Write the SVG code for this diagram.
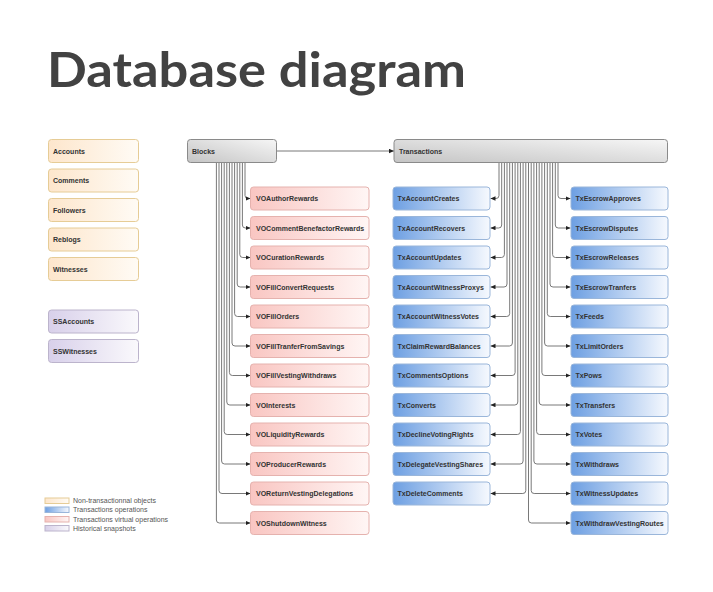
<svg xmlns="http://www.w3.org/2000/svg" width="713" height="592" viewBox="0 0 713 592">
<defs>
<linearGradient id="gNon" x1="0" y1="0" x2="1" y2="0"><stop offset="0" stop-color="#fde6cc"/><stop offset="1" stop-color="#fffbf5"/></linearGradient>
<linearGradient id="gVO" x1="0" y1="0" x2="1" y2="0"><stop offset="0" stop-color="#f9c6c2"/><stop offset="1" stop-color="#fff6f5"/></linearGradient>
<linearGradient id="gTx" x1="0" y1="0" x2="1" y2="0"><stop offset="0" stop-color="#6d9fe2"/><stop offset="1" stop-color="#f6f9fe"/></linearGradient>
<linearGradient id="gHist" x1="0" y1="0" x2="1" y2="0"><stop offset="0" stop-color="#d8d0ea"/><stop offset="1" stop-color="#faf9fc"/></linearGradient>
<linearGradient id="gMain" x1="1" y1="0" x2="0" y2="1"><stop offset="0" stop-color="#f6f6f6"/><stop offset="1" stop-color="#c4c4c4"/></linearGradient>
<marker id="arr" markerUnits="userSpaceOnUse" markerWidth="6" markerHeight="6" refX="5" refY="2.25" orient="auto"><path d="M0,0 L5,2.25 L0,4.5 z" fill="#222"/></marker>
</defs>
<style>
text{font-family:"Liberation Sans",Arial,sans-serif;}
.title{font-family:Lato,"Open Sans",sans-serif;font-weight:bold;font-size:48px;fill:#424242;}
.lbl{font-size:7px;font-weight:bold;fill:#333;}
.leg{font-size:7px;fill:#555;}
.non{fill:url(#gNon);stroke:#e6cc96;stroke-width:1;}
.vo{fill:url(#gVO);stroke:#e5b2ae;stroke-width:1;}
.tx{fill:url(#gTx);stroke:#9ab6da;stroke-width:1;}
.hist{fill:url(#gHist);stroke:#bcb4cc;stroke-width:1;}
.main{fill:url(#gMain);stroke:#8a8a8a;stroke-width:1;}
.c{fill:none;stroke:#6a6a6a;stroke-width:0.9;marker-end:url(#arr);}
</style>
<rect width="713" height="592" fill="#ffffff"/>
<text class="title" x="47" y="87" textLength="419" lengthAdjust="spacingAndGlyphs">Database diagram</text>

<g id="connectors">
<path class="c" d="M277,151 H394"/>
<path class="c" d="M245,163 V195.5 Q245,198.5 248,198.5 H250.5"/>
<path class="c" d="M242.4,163 V225 Q242.4,228 245.4,228 H250.5"/>
<path class="c" d="M239.8,163 V254.5 Q239.8,257.5 242.8,257.5 H250.5"/>
<path class="c" d="M237.2,163 V284 Q237.2,287 240.2,287 H250.5"/>
<path class="c" d="M234.6,163 V313.5 Q234.6,316.5 237.6,316.5 H250.5"/>
<path class="c" d="M232,163 V343 Q232,346 235,346 H250.5"/>
<path class="c" d="M229.4,163 V372.5 Q229.4,375.5 232.4,375.5 H250.5"/>
<path class="c" d="M226.8,163 V402 Q226.8,405 229.8,405 H250.5"/>
<path class="c" d="M224.2,163 V431.5 Q224.2,434.5 227.2,434.5 H250.5"/>
<path class="c" d="M221.6,163 V461 Q221.6,464 224.6,464 H250.5"/>
<path class="c" d="M219,163 V490.5 Q219,493.5 222,493.5 H250.5"/>
<path class="c" d="M216.4,163 V520 Q216.4,523 219.4,523 H250.5"/>

<path class="c" d="M499,163 V195.5 Q499,198.5 496,198.5 H490.5"/>
<path class="c" d="M501.7,163 V225 Q501.7,228 498.7,228 H490.5"/>
<path class="c" d="M504.4,163 V254.5 Q504.4,257.5 501.4,257.5 H490.5"/>
<path class="c" d="M507,163 V284 Q507,287 504,287 H490.5"/>
<path class="c" d="M509.7,163 V313.5 Q509.7,316.5 506.7,316.5 H490.5"/>
<path class="c" d="M512.4,163 V343 Q512.4,346 509.4,346 H490.5"/>
<path class="c" d="M515.1,163 V372.5 Q515.1,375.5 512.1,375.5 H490.5"/>
<path class="c" d="M517.8,163 V402 Q517.8,405 514.8,405 H490.5"/>
<path class="c" d="M520.4,163 V431.5 Q520.4,434.5 517.4,434.5 H490.5"/>
<path class="c" d="M523.1,163 V461 Q523.1,464 520.1,464 H490.5"/>
<path class="c" d="M525.8,163 V490.5 Q525.8,493.5 522.8,493.5 H490.5"/>

<path class="c" d="M558,163 V195.5 Q558,198.5 561,198.5 H570.5"/>
<path class="c" d="M555.3,163 V225 Q555.3,228 558.3,228 H570.5"/>
<path class="c" d="M552.6,163 V254.5 Q552.6,257.5 555.6,257.5 H570.5"/>
<path class="c" d="M550,163 V284 Q550,287 553,287 H570.5"/>
<path class="c" d="M547.3,163 V313.5 Q547.3,316.5 550.3,316.5 H570.5"/>
<path class="c" d="M544.6,163 V343 Q544.6,346 547.6,346 H570.5"/>
<path class="c" d="M541.9,163 V372.5 Q541.9,375.5 544.9,375.5 H570.5"/>
<path class="c" d="M539.2,163 V402 Q539.2,405 542.2,405 H570.5"/>
<path class="c" d="M536.6,163 V431.5 Q536.6,434.5 539.6,434.5 H570.5"/>
<path class="c" d="M533.9,163 V461 Q533.9,464 536.9,464 H570.5"/>
<path class="c" d="M531.2,163 V490.5 Q531.2,493.5 534.2,493.5 H570.5"/>
<path class="c" d="M528.5,163 V520 Q528.5,523 531.5,523 H570.5"/>
</g>

<g id="Accounts"><rect class="non" x="48.5" y="139.5" width="90" height="23" rx="3"/><text class="lbl" x="53" y="153.5">Accounts</text></g>
<g id="Comments"><rect class="non" x="48.5" y="169" width="90" height="23" rx="3"/><text class="lbl" x="53" y="183">Comments</text></g>
<g id="Followers"><rect class="non" x="48.5" y="198.5" width="90" height="23" rx="3"/><text class="lbl" x="53" y="212.5">Followers</text></g>
<g id="Reblogs"><rect class="non" x="48.5" y="228" width="90" height="23" rx="3"/><text class="lbl" x="53" y="242">Reblogs</text></g>
<g id="Witnesses"><rect class="non" x="48.5" y="257.5" width="90" height="23" rx="3"/><text class="lbl" x="53" y="271.5">Witnesses</text></g>
<g id="SSAccounts"><rect class="hist" x="48.5" y="310" width="90" height="23" rx="3"/><text class="lbl" x="53" y="324">SSAccounts</text></g>
<g id="SSWitnesses"><rect class="hist" x="48.5" y="339.5" width="90" height="23" rx="3"/><text class="lbl" x="53" y="353.5">SSWitnesses</text></g>

<g id="Blocks"><rect class="main" x="187.5" y="139.5" width="89" height="23" rx="3"/><text class="lbl" x="192" y="153.5">Blocks</text></g>
<g id="Transactions"><rect class="main" x="394" y="139.5" width="273.5" height="23" rx="3"/><text class="lbl" x="399" y="153.5">Transactions</text></g>

<g id="VOAuthorRewards"><rect class="vo" x="250.5" y="187" width="118.5" height="23" rx="3"/><text class="lbl" x="256" y="201">VOAuthorRewards</text></g>
<g id="VOCommentBenefactorRewards"><rect class="vo" x="250.5" y="216.5" width="118.5" height="23" rx="3"/><text class="lbl" x="256" y="230.5">VOCommentBenefactorRewards</text></g>
<g id="VOCurationRewards"><rect class="vo" x="250.5" y="246" width="118.5" height="23" rx="3"/><text class="lbl" x="256" y="260">VOCurationRewards</text></g>
<g id="VOFillConvertRequests"><rect class="vo" x="250.5" y="275.5" width="118.5" height="23" rx="3"/><text class="lbl" x="256" y="289.5">VOFillConvertRequests</text></g>
<g id="VOFillOrders"><rect class="vo" x="250.5" y="305" width="118.5" height="23" rx="3"/><text class="lbl" x="256" y="319">VOFillOrders</text></g>
<g id="VOFillTranferFromSavings"><rect class="vo" x="250.5" y="334.5" width="118.5" height="23" rx="3"/><text class="lbl" x="256" y="348.5">VOFillTranferFromSavings</text></g>
<g id="VOFillVestingWithdraws"><rect class="vo" x="250.5" y="364" width="118.5" height="23" rx="3"/><text class="lbl" x="256" y="378">VOFillVestingWithdraws</text></g>
<g id="VOInterests"><rect class="vo" x="250.5" y="393.5" width="118.5" height="23" rx="3"/><text class="lbl" x="256" y="407.5">VOInterests</text></g>
<g id="VOLiquidityRewards"><rect class="vo" x="250.5" y="423" width="118.5" height="23" rx="3"/><text class="lbl" x="256" y="437">VOLiquidityRewards</text></g>
<g id="VOProducerRewards"><rect class="vo" x="250.5" y="452.5" width="118.5" height="23" rx="3"/><text class="lbl" x="256" y="466.5">VOProducerRewards</text></g>
<g id="VOReturnVestingDelegations"><rect class="vo" x="250.5" y="482" width="118.5" height="23" rx="3"/><text class="lbl" x="256" y="496">VOReturnVestingDelegations</text></g>
<g id="VOShutdownWitness"><rect class="vo" x="250.5" y="511.5" width="118.5" height="23" rx="3"/><text class="lbl" x="256" y="525.5">VOShutdownWitness</text></g>

<g id="TxAccountCreates"><rect class="tx" x="393" y="187" width="97" height="23" rx="3"/><text class="lbl" x="397.5" y="201">TxAccountCreates</text></g>
<g id="TxAccountRecovers"><rect class="tx" x="393" y="216.5" width="97" height="23" rx="3"/><text class="lbl" x="397.5" y="230.5">TxAccountRecovers</text></g>
<g id="TxAccountUpdates"><rect class="tx" x="393" y="246" width="97" height="23" rx="3"/><text class="lbl" x="397.5" y="260">TxAccountUpdates</text></g>
<g id="TxAccountWitnessProxys"><rect class="tx" x="393" y="275.5" width="97" height="23" rx="3"/><text class="lbl" x="397.5" y="289.5">TxAccountWitnessProxys</text></g>
<g id="TxAccountWitnessVotes"><rect class="tx" x="393" y="305" width="97" height="23" rx="3"/><text class="lbl" x="397.5" y="319">TxAccountWitnessVotes</text></g>
<g id="TxClaimRewardBalances"><rect class="tx" x="393" y="334.5" width="97" height="23" rx="3"/><text class="lbl" x="397.5" y="348.5">TxClaimRewardBalances</text></g>
<g id="TxCommentsOptions"><rect class="tx" x="393" y="364" width="97" height="23" rx="3"/><text class="lbl" x="397.5" y="378">TxCommentsOptions</text></g>
<g id="TxConverts"><rect class="tx" x="393" y="393.5" width="97" height="23" rx="3"/><text class="lbl" x="397.5" y="407.5">TxConverts</text></g>
<g id="TxDeclineVotingRights"><rect class="tx" x="393" y="423" width="97" height="23" rx="3"/><text class="lbl" x="397.5" y="437">TxDeclineVotingRights</text></g>
<g id="TxDelegateVestingShares"><rect class="tx" x="393" y="452.5" width="97" height="23" rx="3"/><text class="lbl" x="397.5" y="466.5">TxDelegateVestingShares</text></g>
<g id="TxDeleteComments"><rect class="tx" x="393" y="482" width="97" height="23" rx="3"/><text class="lbl" x="397.5" y="496">TxDeleteComments</text></g>

<g id="TxEscrowApproves"><rect class="tx" x="571" y="187" width="97" height="23" rx="3"/><text class="lbl" x="575.5" y="201">TxEscrowApproves</text></g>
<g id="TxEscrowDisputes"><rect class="tx" x="571" y="216.5" width="97" height="23" rx="3"/><text class="lbl" x="575.5" y="230.5">TxEscrowDisputes</text></g>
<g id="TxEscrowReleases"><rect class="tx" x="571" y="246" width="97" height="23" rx="3"/><text class="lbl" x="575.5" y="260">TxEscrowReleases</text></g>
<g id="TxEscrowTranfers"><rect class="tx" x="571" y="275.5" width="97" height="23" rx="3"/><text class="lbl" x="575.5" y="289.5">TxEscrowTranfers</text></g>
<g id="TxFeeds"><rect class="tx" x="571" y="305" width="97" height="23" rx="3"/><text class="lbl" x="575.5" y="319">TxFeeds</text></g>
<g id="TxLimitOrders"><rect class="tx" x="571" y="334.5" width="97" height="23" rx="3"/><text class="lbl" x="575.5" y="348.5">TxLimitOrders</text></g>
<g id="TxPows"><rect class="tx" x="571" y="364" width="97" height="23" rx="3"/><text class="lbl" x="575.5" y="378">TxPows</text></g>
<g id="TxTransfers"><rect class="tx" x="571" y="393.5" width="97" height="23" rx="3"/><text class="lbl" x="575.5" y="407.5">TxTransfers</text></g>
<g id="TxVotes"><rect class="tx" x="571" y="423" width="97" height="23" rx="3"/><text class="lbl" x="575.5" y="437">TxVotes</text></g>
<g id="TxWithdraws"><rect class="tx" x="571" y="452.5" width="97" height="23" rx="3"/><text class="lbl" x="575.5" y="466.5">TxWithdraws</text></g>
<g id="TxWitnessUpdates"><rect class="tx" x="571" y="482" width="97" height="23" rx="3"/><text class="lbl" x="575.5" y="496">TxWitnessUpdates</text></g>
<g id="TxWithdrawVestingRoutes"><rect class="tx" x="571" y="511.5" width="97" height="23" rx="3"/><text class="lbl" x="575.5" y="525.5">TxWithdrawVestingRoutes</text></g>

<g id="legend">
<rect class="non" x="45" y="498" width="24" height="5.5"/><text class="leg" x="73" y="503">Non-transactionnal objects</text>
<rect class="tx" x="45" y="507" width="24" height="5.5"/><text class="leg" x="73" y="512">Transactions operations</text>
<rect class="vo" x="45" y="516.5" width="24" height="5.5"/><text class="leg" x="73" y="521.5">Transactions virtual operations</text>
<rect class="hist" x="45" y="525.5" width="24" height="5.5"/><text class="leg" x="73" y="530.5">Historical snapshots</text>
</g>
</svg>
